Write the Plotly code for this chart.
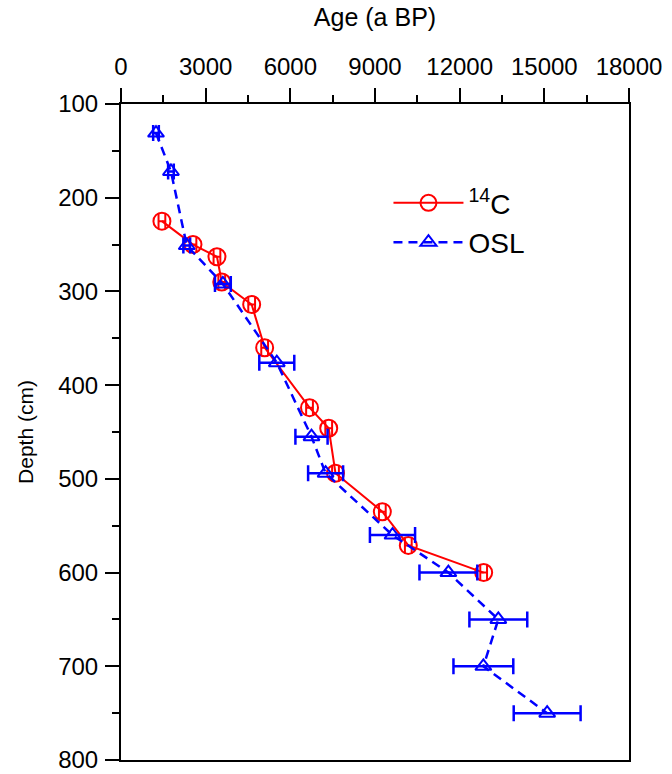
import plotly.graph_objects as go

# 14C ages
c14_age = [1450, 2550, 3400, 3570, 4630, 5090, 6680, 7360, 7600, 9260, 10180, 12850]
c14_depth = [225, 250, 263, 290, 314, 360, 424, 446, 494, 535, 571, 600]
c14_err = [120, 120, 120, 120, 120, 120, 120, 120, 120, 120, 120, 120]

# OSL ages
osl_age = [1240, 1770, 2330, 3610, 5520, 6750, 7250, 9620, 11600, 13370, 12840, 15100]
osl_depth = [131, 172, 251, 292, 376, 455, 494, 560, 600, 650, 700, 750]
osl_err = [100, 100, 120, 280, 620, 570, 620, 800, 1025, 1025, 1060, 1185]

x_ticks = [0, 3000, 6000, 9000, 12000, 15000, 18000]
y_ticks = [100, 200, 300, 400, 500, 600, 700, 800]

fig = go.Figure()
fig.add_trace(go.Scatter(
    x=c14_age, y=c14_depth, mode="lines+markers", name="<sup>14</sup>C",
    line=dict(color="#ff0000", width=2),
    marker=dict(symbol="circle-open", size=17, color="#ff0000", line=dict(width=2)),
    error_x=dict(type="data", array=c14_err, color="#ff0000", thickness=2, width=8),
))
fig.add_trace(go.Scatter(
    x=osl_age, y=osl_depth, mode="lines+markers", name="OSL",
    line=dict(color="#0000ff", width=2.5, dash="9px,6px"),
    marker=dict(symbol="triangle-up-open", size=14, color="#0000ff", line=dict(width=2)),
    error_x=dict(type="data", array=osl_err, color="#0000ff", thickness=2.5, width=8),
))

font = "Liberation Sans, Arial, sans-serif"
fig.update_layout(
    width=672, height=774,
    margin=dict(l=121, r=43, t=104, b=14),
    plot_bgcolor="white", paper_bgcolor="white",
    font=dict(family=font, size=24, color="black"),
    showlegend=True,
    legend=dict(x=0.5265, y=0.887, xanchor="left", yanchor="top",
                font=dict(size=28), bgcolor="rgba(0,0,0,0)",
                itemwidth=70, tracegroupgap=0),
    xaxis=dict(
        side="top", range=[0, 18000], tickvals=x_ticks, ticktext=[str(v) for v in x_ticks],
        ticks="outside", ticklen=14, tickwidth=2, tickcolor="black",
        showline=True, linewidth=2, linecolor="black", mirror=True,
        showgrid=False, zeroline=False, automargin=False, ticklabelstandoff=3,
        minor=dict(tickvals=[1500, 4500, 7500, 10500, 13500, 16500], ticks="outside", ticklen=7, tickwidth=2, tickcolor="black"),
        title=dict(text="Age (a BP)", font=dict(size=25), standoff=20),
        tickfont=dict(size=24),
    ),
    yaxis=dict(
        range=[800, 100], tickvals=y_ticks, ticktext=[str(v) for v in y_ticks],
        ticks="outside", ticklen=14, tickwidth=2, tickcolor="black",
        showline=True, linewidth=2, linecolor="black", mirror=True,
        showgrid=False, zeroline=False, automargin=False, ticklabelstandoff=2,
        minor=dict(tickvals=[150, 250, 350, 450, 550, 650, 750], ticks="outside", ticklen=7, tickwidth=2, tickcolor="black"),
        title=dict(text="Depth (cm)", font=dict(size=21), standoff=19),
        tickfont=dict(size=24),
    ),
)
fig.write_html("out.html", config={"displayModeBar": False},
               post_script="document.body.style.margin='0';")
